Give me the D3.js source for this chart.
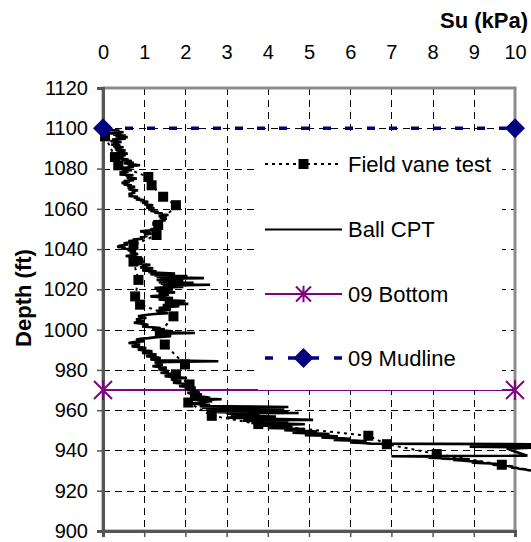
<!DOCTYPE html>
<html>
<head>
<meta charset="utf-8">
<script src="https://cdn.jsdelivr.net/npm/d3@7"></script>
<style>
  body { margin: 0; background: #fff; }
  svg { display: block; font-family: Arial, "Liberation Sans", sans-serif; }
</style>
</head>
<body>
<svg id="chart" width="531" height="542"></svg>
<script>
// Axis ticks
const suTicks = [0, 1, 2, 3, 4, 5, 6, 7, 8, 9, 10];
const depthTicks = [900, 920, 940, 960, 980, 1000, 1020, 1040, 1060, 1080, 1100, 1120];

// Field vane test: depth (ft) and undrained shear strength (kPa)
const vaneDepth = [1096, 1085.7, 1081.6, 1075.8, 1071.7, 1066, 1061.8, 1052, 1047, 1042,
  1033.8, 1024.7, 1016.5, 1012.4, 1006.6, 998.4, 992.6, 982.7, 977.8, 972.8,
  967, 963.8, 957.2, 953.1, 947.3, 943.1, 938.2, 932.9];
const vaneSu = [0.05, 0.29, 0.37, 1.10, 1.18, 1.46, 1.77, 1.34, 1.30, 0.74,
  0.74, 0.86, 0.78, 0.90, 1.71, 1.38, 1.50, 1.99, 1.77, 2.10,
  2.23, 2.07, 2.64, 3.77, 6.44, 6.89, 8.10, 9.68];

// Ball CPT profile: [depth (ft), Su (kPa)]
const cptReadings = [
  [1100.0, 0.00], [1099.3, 0.05], [1098.9, 0.40], [1098.6, 0.20], [1098.0, 0.50],
  [1097.6, 0.12], [1097.2, 0.45], [1096.8, 0.25], [1096.4, 0.55], [1095.9, 0.30],
  [1095.6, 0.60], [1095.2, 0.35], [1094.8, 0.55], [1094.4, 0.22], [1094.0, 0.40],
  [1093.6, 0.18], [1093.2, 0.45], [1092.7, 0.25], [1092.3, 0.40], [1091.9, 0.20],
  [1091.5, 0.42], [1091.0, 0.25], [1090.6, 0.50], [1090.2, 0.28], [1089.8, 0.45],
  [1089.4, 0.30], [1089.0, 0.55], [1088.6, 0.35], [1088.2, 0.50], [1087.8, 0.32],
  [1087.4, 0.60], [1087.0, 0.40], [1086.6, 0.55], [1086.2, 0.38], [1085.8, 0.50],
  [1085.4, 0.30], [1084.9, 0.45], [1084.5, 0.62], [1084.2, 0.45], [1083.7, 0.70],
  [1083.3, 0.55], [1082.9, 0.75], [1082.6, 0.50], [1082.1, 0.70], [1081.6, 0.90],
  [1081.2, 0.60], [1080.8, 0.75], [1080.4, 0.50], [1080.0, 0.62], [1079.6, 0.45],
  [1079.2, 0.70], [1078.8, 0.48], [1078.4, 0.62], [1078.0, 0.40], [1077.5, 0.55],
  [1077.1, 0.40], [1076.7, 0.74], [1076.3, 0.55], [1075.9, 0.70], [1075.5, 0.58],
  [1075.0, 0.82], [1074.6, 0.60], [1074.2, 0.75], [1073.8, 0.50], [1073.4, 0.65],
  [1072.9, 0.45], [1072.5, 0.60], [1072.1, 0.50], [1071.7, 0.70], [1071.3, 0.58],
  [1070.9, 0.78], [1070.4, 0.60], [1070.0, 0.72], [1069.6, 0.62], [1069.2, 0.85],
  [1068.6, 0.70], [1068.0, 0.78], [1067.4, 0.62], [1066.8, 0.72], [1066.4, 0.62],
  [1066.0, 0.85], [1065.5, 0.75], [1065.1, 0.90], [1064.7, 0.80], [1064.3, 1.00],
  [1063.9, 0.90], [1063.5, 1.10], [1063.0, 0.95], [1062.6, 1.08], [1062.2, 1.00],
  [1061.8, 1.22], [1061.4, 1.05], [1061.0, 1.15], [1060.6, 1.05], [1060.2, 1.25],
  [1059.8, 1.10], [1059.3, 1.20], [1058.9, 1.15], [1058.5, 1.35], [1058.1, 1.25],
  [1057.7, 1.45], [1057.3, 1.35], [1056.9, 1.59], [1056.4, 1.35], [1056.0, 1.48],
  [1055.5, 1.38], [1055.1, 1.55], [1054.7, 1.40], [1054.3, 1.52], [1053.9, 1.35],
  [1053.5, 1.40], [1053.1, 1.20], [1052.7, 1.30], [1052.2, 1.20], [1051.8, 1.40],
  [1051.4, 1.30], [1051.0, 1.45], [1050.6, 1.30], [1050.2, 1.35], [1049.8, 1.15],
  [1049.4, 1.22], [1048.8, 0.90], [1048.5, 1.10], [1048.2, 0.98], [1047.7, 1.18],
  [1047.1, 1.00], [1046.5, 1.08], [1045.9, 0.90], [1045.2, 0.98], [1044.8, 0.72],
  [1044.4, 0.82], [1044.0, 0.62], [1043.5, 0.70], [1042.9, 0.50], [1042.3, 0.60],
  [1041.7, 0.40], [1041.1, 0.35], [1040.7, 0.55], [1040.3, 0.45], [1039.9, 0.70],
  [1039.5, 0.60], [1038.9, 0.80], [1038.3, 0.65], [1037.6, 0.85], [1037.0, 0.75],
  [1036.6, 0.55], [1036.2, 0.70], [1035.8, 0.95], [1035.5, 0.80], [1035.1, 0.98],
  [1034.7, 0.70], [1034.2, 0.90], [1033.8, 1.00], [1033.4, 0.80], [1033.0, 0.95],
  [1032.6, 0.85], [1032.2, 1.15], [1031.8, 0.95], [1031.4, 1.05], [1030.9, 0.90],
  [1030.5, 1.22], [1030.1, 1.00], [1029.8, 1.10], [1029.4, 0.95], [1029.0, 1.30],
  [1028.6, 1.10], [1028.3, 1.20], [1027.8, 1.75], [1027.5, 1.15], [1027.2, 1.40],
  [1026.9, 1.25], [1026.6, 2.05], [1026.3, 1.30], [1026.0, 1.55], [1025.6, 2.45],
  [1025.3, 1.40], [1025.0, 1.65], [1024.7, 1.30], [1024.4, 1.95], [1024.1, 1.40],
  [1023.8, 1.65], [1023.5, 1.35], [1023.2, 2.20], [1022.8, 1.40], [1022.5, 1.75],
  [1022.3, 2.60], [1021.8, 1.45], [1021.5, 1.70], [1021.2, 1.95], [1020.9, 1.40],
  [1020.7, 1.25], [1020.3, 1.50], [1020.0, 1.70], [1019.6, 1.40], [1019.2, 1.30],
  [1018.8, 1.55], [1018.5, 1.75], [1018.1, 1.45], [1017.7, 1.35], [1017.3, 1.60],
  [1017.0, 1.45], [1016.5, 1.15], [1016.1, 1.40], [1015.7, 1.70], [1015.3, 1.50],
  [1015.0, 1.35], [1014.6, 1.60], [1014.2, 2.00], [1013.8, 1.65], [1013.5, 1.50],
  [1013.1, 1.75], [1012.8, 2.07], [1012.5, 1.60], [1012.2, 1.45], [1011.9, 1.70],
  [1011.6, 1.85], [1011.1, 1.50], [1010.7, 1.35], [1010.3, 1.55], [1010.0, 1.65],
  [1009.6, 1.45], [1009.2, 1.30], [1008.7, 1.45], [1008.2, 1.58], [1007.8, 1.25],
  [1007.4, 1.08], [1007.0, 0.95], [1006.6, 0.85], [1006.2, 1.00], [1005.8, 1.05],
  [1005.4, 0.90], [1005.0, 0.80], [1004.6, 0.95], [1004.2, 1.00], [1003.8, 0.85],
  [1003.4, 0.75], [1002.9, 0.95], [1002.4, 1.10], [1002.0, 1.00], [1001.6, 0.95],
  [1001.2, 1.20], [1000.8, 1.40], [1000.4, 1.25], [1000.0, 1.20], [999.6, 1.45],
  [999.2, 1.70], [998.8, 1.30], [998.3, 2.23], [998.0, 1.35], [997.6, 1.40],
  [997.2, 1.60], [996.8, 1.65], [996.3, 1.30], [995.8, 1.10], [995.4, 0.90],
  [995.0, 0.80], [994.6, 0.95], [994.2, 1.00], [993.8, 0.75], [993.4, 0.62],
  [993.0, 0.80], [992.6, 0.90], [992.2, 0.75], [991.7, 0.70], [991.3, 0.90],
  [990.9, 1.05], [990.5, 0.90], [990.0, 0.85], [989.6, 1.05], [989.2, 1.20],
  [988.8, 1.00], [988.4, 0.95], [988.0, 1.15], [987.6, 1.30], [987.2, 1.10],
  [986.8, 1.05], [986.3, 1.30], [985.9, 1.40], [985.5, 1.20], [985.2, 1.15],
  [984.8, 1.40], [984.3, 2.80], [983.8, 1.25], [983.2, 1.35], [982.6, 1.45],
  [982.2, 1.30], [981.8, 1.20], [981.4, 1.40], [981.0, 1.55], [980.6, 1.40],
  [980.2, 1.35], [979.8, 1.50], [979.4, 1.60], [979.0, 1.45], [978.6, 1.40],
  [978.2, 1.60], [977.8, 1.75], [977.3, 1.55], [976.9, 1.50], [976.4, 1.75],
  [976.0, 2.04], [975.6, 1.75], [975.2, 1.65], [974.8, 1.80], [974.4, 1.90],
  [974.0, 1.75], [973.6, 1.70], [973.1, 1.95], [972.7, 2.10], [972.3, 1.90],
  [971.9, 1.85], [971.5, 2.10], [971.1, 2.25], [970.7, 2.05], [970.3, 2.00],
  [969.9, 2.20], [969.5, 2.30], [969.0, 2.10], [968.6, 2.05], [968.2, 2.30],
  [967.8, 2.40], [967.4, 2.20], [967.0, 2.15], [966.6, 2.45], [966.2, 2.60],
  [965.8, 2.35], [965.4, 2.88], [965.0, 2.30], [964.7, 2.50], [964.4, 2.65],
  [964.1, 2.45], [963.8, 2.40], [963.5, 2.25], [963.2, 2.15], [962.9, 2.45],
  [962.6, 2.60], [962.3, 2.40], [962.0, 2.35], [961.6, 4.50], [961.4, 2.45],
  [961.2, 2.40], [960.9, 3.30], [960.6, 4.40], [960.4, 2.55], [960.2, 2.50],
  [959.8, 2.60], [959.4, 4.50], [959.2, 2.75], [959.0, 2.80], [958.8, 3.60],
  [958.6, 4.75], [958.4, 3.10], [958.2, 3.00], [957.8, 3.80], [957.5, 3.20],
  [957.3, 3.10], [957.0, 3.90], [956.8, 4.20], [956.5, 3.20], [956.3, 3.00],
  [955.9, 3.80], [955.6, 4.30], [955.2, 5.10], [955.0, 3.60], [954.8, 3.40],
  [954.5, 4.10], [954.2, 4.50], [953.9, 3.80], [953.6, 3.60], [953.3, 4.30],
  [953.0, 4.90], [952.7, 4.00], [952.4, 3.80], [952.1, 4.30], [951.8, 4.60],
  [951.5, 4.20], [951.2, 4.00], [950.9, 4.50], [950.6, 4.90], [950.3, 4.60],
  [950.0, 4.40], [949.7, 4.90], [949.4, 5.20], [949.1, 4.80], [948.8, 4.60],
  [948.5, 5.10], [948.2, 5.50], [947.9, 5.10], [947.6, 4.90], [947.3, 5.40],
  [947.0, 5.70], [946.7, 5.40], [946.4, 5.30], [946.1, 5.70], [945.8, 6.00],
  [945.5, 5.70], [945.2, 5.60], [944.9, 6.10], [944.6, 6.40], [944.3, 6.10],
  [944.0, 6.00], [943.7, 6.30], [943.4, 6.50], [943.1, 10.40], [942.4, 10.40],
  [941.9, 8.90], [941.4, 10.40], [940.9, 9.80], [937.4, 10.30], [937.1, 7.00],
  [936.9, 7.80], [936.7, 8.10], [936.4, 7.90], [936.2, 8.40], [935.9, 8.20],
  [935.6, 8.90], [935.3, 8.50], [935.0, 8.70], [934.7, 8.90], [934.4, 9.20],
  [934.1, 8.95], [933.8, 9.10], [933.5, 9.40], [933.2, 9.55], [932.9, 9.45],
  [932.6, 9.70], [932.3, 9.80], [932.0, 9.95], [931.6, 9.90], [931.3, 10.05],
  [930.9, 10.10], [930.6, 10.25], [930.3, 10.30], [930.0, 10.40]
];

// Reference levels
const bottomSu = [0, 10];
const bottomDepth = [970, 970];
const mudlineSu = [0, 10];
const mudlineDepth = [1100, 1100];

const legendLabels = ["Field vane test", "Ball CPT", "09 Bottom", "09 Mudline"];

const svg = d3.select("#chart");
const x = d3.scaleLinear().domain([0, 10]).range([103, 515]);
const y = d3.scaleLinear().domain([900, 1120]).range([531, 88]);

const purple = "#800080";
const navy = "#000080";

// Dashed gridlines
const grid = svg.append("g").attr("stroke", "#000").attr("stroke-width", 1)
  .attr("stroke-dasharray", "7,5").attr("fill", "none");
grid.selectAll("line.v").data(suTicks.slice(1, -1)).join("line")
  .attr("class", "v")
  .attr("x1", d => Math.round(x(d)) + 0.5).attr("x2", d => Math.round(x(d)) + 0.5)
  .attr("y1", y(1120)).attr("y2", y(900));
grid.selectAll("line.h").data(depthTicks.slice(1, -1)).join("line")
  .attr("class", "h")
  .attr("y1", d => Math.round(y(d)) + 0.5).attr("y2", d => Math.round(y(d)) + 0.5)
  .attr("x1", x(0)).attr("x2", x(10));

// Plot area border
svg.append("rect")
  .attr("x", x(0)).attr("y", y(1120))
  .attr("width", x(10) - x(0)).attr("height", y(900) - y(1120))
  .attr("fill", "none").attr("stroke", "#8c8c8c").attr("stroke-width", 3);

// Left depth axis
const yAxis = svg.append("g").attr("transform", `translate(${x(0)},0)`)
  .call(d3.axisLeft(y).tickValues(depthTicks).tickSize(6).tickPadding(9).tickFormat(d3.format("d")));
yAxis.select(".domain").attr("stroke", "#555").attr("stroke-width", 3);
yAxis.selectAll(".tick line").attr("stroke", "#555").attr("stroke-width", 1.5);
yAxis.selectAll(".tick text").attr("font-size", 20).attr("fill", "#000")
  .attr("font-family", "Arial, 'Liberation Sans', sans-serif");

// Bottom axis line with outward ticks
const xAxisBottom = svg.append("g").attr("transform", `translate(0,${y(900)})`)
  .call(d3.axisBottom(x).tickValues(suTicks).tickSize(6).tickFormat(""));
xAxisBottom.select(".domain").attr("stroke", "#555").attr("stroke-width", 3);
xAxisBottom.selectAll(".tick line").attr("stroke", "#555").attr("stroke-width", 1.5);

// Su labels along the top
const xAxisTop = svg.append("g").attr("transform", "translate(0,59)")
  .call(d3.axisTop(x).tickValues(suTicks).tickSize(0).tickPadding(0));
xAxisTop.select(".domain").remove();
xAxisTop.selectAll(".tick text").attr("font-size", 20).attr("fill", "#000")
  .attr("font-family", "Arial, 'Liberation Sans', sans-serif");

// Axis titles
svg.append("text").attr("x", 528).attr("y", 28).attr("text-anchor", "end")
  .attr("font-size", 22).attr("font-weight", "bold").text("Su (kPa)");
svg.append("text").attr("transform", "translate(31,298) rotate(-90)")
  .attr("text-anchor", "middle").attr("font-size", 22).attr("font-weight", "bold")
  .text("Depth (ft)");

// Marker shapes
const starPath = r => `M${-r},${-r}L${r},${r}M${-r},${r}L${r},${-r}M0,${-r * 1.1}L0,${r * 1.1}`;
const diamondPath = r => `M0,${-r}L${r},0L0,${r}L${-r},0Z`;

// 09 Bottom
const bottomPts = bottomSu.map((s, i) => [s, bottomDepth[i]]);
svg.append("path").datum(bottomPts)
  .attr("d", d3.line().x(d => x(d[0])).y(d => y(d[1])))
  .attr("fill", "none").attr("stroke", purple).attr("stroke-width", 2);
svg.selectAll("path.star").data(bottomPts).join("path").attr("class", "star")
  .attr("transform", d => `translate(${x(d[0])},${y(d[1])})`)
  .attr("d", starPath(9)).attr("fill", "none").attr("stroke", purple).attr("stroke-width", 2);

// Ball CPT
svg.append("path").datum(cptReadings)
  .attr("d", d3.line().x(d => x(d[1])).y(d => y(d[0])))
  .attr("fill", "none").attr("stroke", "#000").attr("stroke-width", 2.6)
  .attr("stroke-linejoin", "miter").attr("stroke-miterlimit", 2);

// Field vane test
const vanePts = vaneSu.map((s, i) => [s, vaneDepth[i]]);
svg.append("path").datum(vanePts)
  .attr("d", d3.line().x(d => x(d[0])).y(d => y(d[1])))
  .attr("fill", "none").attr("stroke", "#000").attr("stroke-width", 2)
  .attr("stroke-dasharray", "3,4");
svg.selectAll("rect.vane").data(vanePts).join("rect").attr("class", "vane")
  .attr("x", d => x(d[0]) - 5).attr("y", d => y(d[1]) - 5)
  .attr("width", 10).attr("height", 10).attr("fill", "#000");

// 09 Mudline
const mudPts = mudlineSu.map((s, i) => [s, mudlineDepth[i]]);
svg.append("path").datum(mudPts)
  .attr("d", d3.line().x(d => x(d[0])).y(d => y(d[1])))
  .attr("fill", "none").attr("stroke", navy).attr("stroke-width", 3.5)
  .attr("stroke-dasharray", "8,14");
svg.selectAll("path.diamond").data(mudPts).join("path").attr("class", "diamond")
  .attr("transform", d => `translate(${x(d[0])},${y(d[1])})`)
  .attr("d", diamondPath(10)).attr("fill", navy);

// Legend
const legend = svg.append("g");
legend.append("rect").attr("x", 258).attr("y", 135).attr("width", 244).attr("height", 255)
  .attr("fill", "#fff");
const rowY = [164, 229.5, 294, 358];
const sx1 = 265, sx2 = 342, smid = (sx1 + sx2) / 2;
legendLabels.forEach((label, i) => {
  const g = legend.append("g").attr("transform", `translate(0,${rowY[i]})`);
  const ln = g.append("line").attr("x1", sx1).attr("x2", sx2).attr("y1", 0).attr("y2", 0)
    .attr("fill", "none");
  if (i === 0) {
    ln.attr("stroke", "#000").attr("stroke-width", 2).attr("stroke-dasharray", "3,4");
    g.append("rect").attr("x", smid - 5).attr("y", -5).attr("width", 10).attr("height", 10).attr("fill", "#000");
  } else if (i === 1) {
    ln.attr("stroke", "#000").attr("stroke-width", 2);
  } else if (i === 2) {
    ln.attr("stroke", purple).attr("stroke-width", 2);
    g.append("path").attr("transform", `translate(${smid},0)`).attr("d", starPath(7.5))
      .attr("fill", "none").attr("stroke", purple).attr("stroke-width", 2);
  } else {
    ln.attr("stroke", navy).attr("stroke-width", 3.5).attr("stroke-dasharray", "8,15");
    g.append("path").attr("transform", `translate(${smid},0)`).attr("d", diamondPath(10)).attr("fill", navy);
  }
  g.append("text").attr("x", 348).attr("y", 0).attr("dy", "0.35em")
    .attr("font-size", 22).attr("fill", "#000").text(label);
});
</script>
</body>
</html>
